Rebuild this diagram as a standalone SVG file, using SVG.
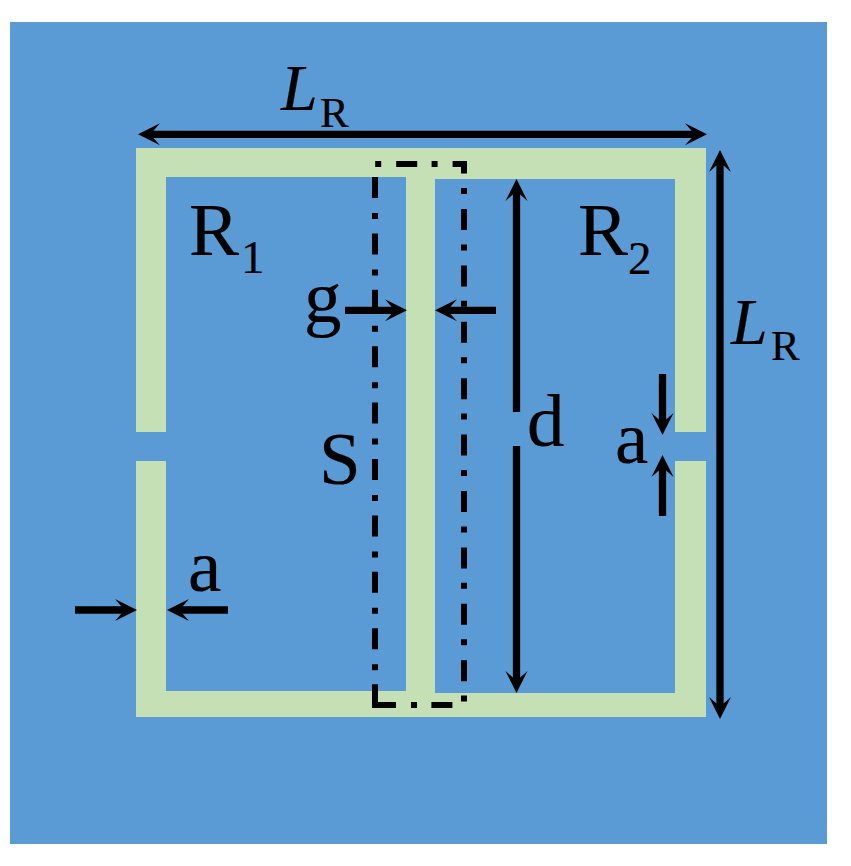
<svg xmlns="http://www.w3.org/2000/svg" width="851" height="866" viewBox="0 0 851 866">
<style>
.t{font-family:"Liberation Serif","Times New Roman",serif;fill:#000;stroke:#000;stroke-width:.2}
.m{font-size:75px}.s{font-size:47px}.l{font-size:66px;font-style:italic}.r{font-size:43px}
.c{stroke:#000;stroke-width:7.300;fill:none}
.d{stroke:#000;stroke-width:6;fill:none}
.g{fill:#C5E0B4}
</style>
<defs>
<path id="h" d="M0 0L-22 -11L-15.500 -3.600V3.600L-22 11Z" fill="#000"/>
</defs>
<rect width="851" height="866" fill="#fff"/>
<rect x="10" y="22" width="817" height="822" fill="#5B9BD5"/>
<g id="ring-R1">
<path class="g" d="M136 148H406V177H166V691H406V717H136V461H166V432H136Z"/>
</g>
<g id="ring-R2">
<path class="g" d="M435 148H706V432H675V179H435ZM435 693H675V461H706V717H435Z"/>
</g>
<g id="strip">
<rect class="g" x="406" y="148" width="29" height="569"/>
</g>
<g id="connectors">
<path class="d" d="M375 705H464V164H375" stroke-dasharray="21 15 6 14.400"/>
<path class="d" d="M375 177V705" stroke-dasharray="21 15 6 14.400"/>
<path class="d" d="M375 684.500V708M372 705H396"/>
<path class="c" d="M150 134.300H695"/>
<use href="#h" transform="translate(707 134.300)"/>
<use href="#h" transform="translate(138 134.300) rotate(180)"/>
<path class="c" d="M720 162V707"/>
<use href="#h" transform="translate(720 150) rotate(-90)"/>
<use href="#h" transform="translate(720 719) rotate(90)"/>
<path class="c" d="M516.500 191V412M516.500 446V681"/>
<use href="#h" transform="translate(516.500 179) rotate(-90)"/>
<use href="#h" transform="translate(516.500 693) rotate(90)"/>
<path class="c" d="M345 310.300H395M496 310.300H447"/>
<use href="#h" transform="translate(407 310.300)"/>
<use href="#h" transform="translate(435 310.300) rotate(180)"/>
<path class="c" d="M75 610H125M228 610H178"/>
<use href="#h" transform="translate(137 610)"/>
<use href="#h" transform="translate(167 610) rotate(180)"/>
<path class="c" d="M662.500 374V423M662.500 516V467"/>
<use href="#h" transform="translate(662.500 435) rotate(90)"/>
<use href="#h" transform="translate(662.500 455) rotate(-90)"/>
</g>
<g id="labels">
<text class="t l" x="281" y="110">L</text><text class="t r" x="320" y="127">R</text>
<text class="t l" x="731" y="344">L</text><text class="t r" x="771" y="360">R</text>
<text class="t m" x="189" y="255">R</text><text class="t s" x="241" y="273">1</text>
<text class="t m" x="578" y="255">R</text><text class="t s" x="628" y="274">2</text>
<text class="t m" x="304" y="322">g</text>
<text class="t m" x="319" y="484">S</text>
<text class="t m" x="527" y="446">d</text>
<text class="t m" x="615" y="463">a</text>
<text class="t m" x="188" y="591">a</text>
</g>
</svg>
